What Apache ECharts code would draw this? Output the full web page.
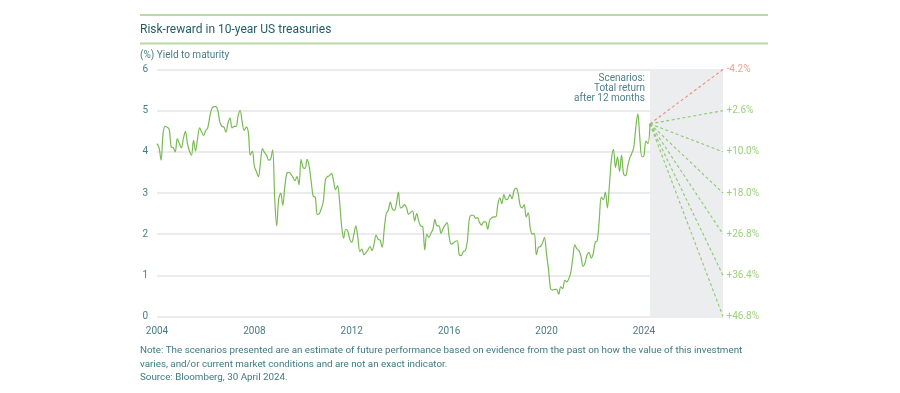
<!DOCTYPE html>
<html>
<head>
<meta charset="utf-8">
<script src="https://cdn.jsdelivr.net/npm/echarts@6/dist/echarts.min.js"></script>
<style>
html,body{margin:0;padding:0;background:#fff;}
#chart{width:900px;height:393px;}
</style>
</head>
<body>
<div id="chart"></div>
<script>
// Monthly 10-year US Treasury yield (%), Jan 2004 .. Apr 2024
const startYear = 2004;
const yields = [
  4.20,4.10,3.80,4.45,4.62,4.60,4.55,4.12,4.10,4.00,4.32,4.20, // 2004
  4.10,4.32,4.50,4.20,4.02,3.92,4.28,4.02,4.32,4.58,4.48,4.40, // 2005
  4.52,4.58,4.85,5.05,5.10,5.10,5.00,4.72,4.62,4.60,4.48,4.70, // 2006
  4.82,4.58,4.62,4.62,4.88,5.00,4.72,4.52,4.60,4.48,3.92,4.02, // 2007
  3.65,3.52,3.40,3.75,4.08,3.98,3.92,3.80,3.82,4.05,2.90,2.20, // 2008
  2.85,3.00,2.70,3.15,3.48,3.50,3.46,3.38,3.30,3.40,3.20,3.82, // 2009
  3.62,3.60,3.82,3.65,3.28,2.92,2.90,2.48,2.50,2.62,2.80,3.32, // 2010
  3.40,3.42,3.48,3.30,3.08,3.18,2.80,2.20,1.90,2.12,2.08,1.88, // 2011
  1.80,1.98,2.20,1.92,1.58,1.64,1.50,1.55,1.62,1.70,1.60,1.76, // 2012
  1.98,1.88,1.85,1.68,2.12,2.50,2.58,2.78,2.62,2.58,2.74,3.02, // 2013
  2.64,2.66,2.72,2.64,2.48,2.53,2.56,2.32,2.50,2.32,2.20,2.18, // 2014
  1.62,2.00,1.92,2.02,2.12,2.36,2.20,2.20,2.02,2.14,2.22,2.28, // 2015
  1.94,1.76,1.78,1.82,1.84,1.50,1.48,1.58,1.60,1.84,2.38,2.46, // 2016
  2.46,2.38,2.40,2.28,2.22,2.30,2.30,2.12,2.34,2.40,2.42,2.42, // 2017
  2.72,2.88,2.74,2.96,2.84,2.86,2.96,2.86,3.06,3.12,3.00,2.70, // 2018
  2.64,2.72,2.42,2.52,2.14,2.00,2.02,1.50,1.68,1.70,1.78,1.92, // 2019
  1.52,1.14,0.68,0.64,0.66,0.66,0.54,0.72,0.68,0.88,0.84,0.92, // 2020
  1.08,1.44,1.74,1.64,1.60,1.46,1.22,1.30,1.50,1.56,1.42,1.52, // 2021
  1.80,1.84,2.34,2.90,2.84,3.02,2.64,3.18,3.82,4.06,3.62,3.88, // 2022
  3.52,3.92,3.46,3.42,3.64,3.84,3.96,4.10,4.58,4.92,4.34,3.88, // 2023
  3.90,4.26,4.20,4.68                                          // 2024
];

// Scenario fan: end yields and 12-month total returns
const scenarioEndX = 2027.25;
const scenarioYields = [6, 5, 4, 3, 2, 1, 0];
const scenarioReturns = ['-4.2%', '+2.6%', '+10.0%', '+18.0%', '+26.8%', '+36.4%', '+46.8%'];

const xTicks = [2004, 2008, 2012, 2016, 2020, 2024];
const yTicks = [0, 1, 2, 3, 4, 5, 6];

const titleText = 'Risk-reward in 10-year US treasuries';
const yAxisTitle = '(%) Yield to maturity';
const scenarioText = 'Scenarios:\nTotal return\nafter 12 months';
const noteLines = [
  'Note: The scenarios presented are an estimate of future performance based on evidence from the past on how the value of this investment',
  'varies, and/or current market conditions and are not an exact indicator.',
  'Source: Bloomberg, 30 April 2024.'
];

const FONT = 'Roboto, "Noto Sans", sans-serif';
const TEAL = '#4a7e85';
const GREEN = '#7aba55';
const LGREEN = '#8cc96e';
const RED = '#ee8c7e';

const lineData = yields.map((v, i) => [startYear + i / 12, v]);
const lastPt = lineData[lineData.length - 1];

const scenarioSeries = scenarioYields.map((y, k) => {
  const col = k === 0 ? RED : LGREEN;
  return {
    type: 'line',
    data: [[lastPt[0], lastPt[1]], [scenarioEndX, y]],
    symbol: 'none',
    silent: true,
    z: 3,
    lineStyle: { color: col, width: 1.1, type: [3, 2.5] },
    endLabel: {
      show: true,
      formatter: () => scenarioReturns[k],
      color: k === 0 ? '#f0a293' : '#9bd07c',
      fontFamily: FONT,
      fontSize: 10,
      distance: 3.5
    }
  };
});

const chart = echarts.init(document.getElementById('chart'), null, { renderer: 'canvas' });
chart.setOption({
  backgroundColor: '#ffffff',
  animation: false,
  textStyle: { fontFamily: FONT },
  grid: { left: 157, right: 177, top: 69.5, bottom: 76.5 },
  xAxis: {
    type: 'value',
    min: 2004,
    max: scenarioEndX,
    interval: 4,
    axisLine: { show: false },
    axisTick: { show: false },
    splitLine: { show: false },
    axisLabel: {
      color: TEAL, fontSize: 10, fontFamily: FONT, margin: 10,
      showMaxLabel: false,
      formatter: v => (xTicks.indexOf(v) >= 0 ? String(v) : '')
    }
  },
  yAxis: {
    type: 'value',
    min: yTicks[0],
    max: yTicks[yTicks.length - 1],
    interval: 1,
    axisLine: { show: false },
    axisTick: { show: false },
    splitLine: { show: true, lineStyle: { color: '#e4e4e4', width: 1.5 } },
    axisLabel: { color: TEAL, fontSize: 10, fontFamily: FONT, margin: 9, align: 'right' }
  },
  graphic: [
    { type: 'line', shape: { x1: 140, y1: 15, x2: 768, y2: 15 }, style: { stroke: '#b8dba3', lineWidth: 2 } },
    { type: 'line', shape: { x1: 140, y1: 43.5, x2: 768, y2: 43.5 }, style: { stroke: '#b8dba3', lineWidth: 2 } },
    { type: 'text', left: 140, top: 23.5, style: { text: titleText, fill: '#1f5d66', font: '12px ' + FONT } },
    { type: 'text', left: 140, top: 50.5, style: { text: yAxisTitle, fill: TEAL, font: '10px ' + FONT } },
    { type: 'text', right: 900 - 645, top: 73.5, style: { text: scenarioText, fill: '#4f8088', font: '10px ' + FONT, textAlign: 'right', lineHeight: 10 } },
    { type: 'text', left: 140, top: 344, style: { text: noteLines.join('\n'), fill: '#3f7a80', font: '9.8px ' + FONT, lineHeight: 13.5 } }
  ],
  series: [
    {
      type: 'line',
      data: lineData,
      symbol: 'none',
      smooth: 0.35,
      z: 4,
      lineStyle: { color: GREEN, width: 1.2 },
      markArea: {
        silent: true,
        itemStyle: { color: '#ebedef' },
        data: [[{ xAxis: lastPt[0] }, { xAxis: scenarioEndX }]]
      }
    },
    ...scenarioSeries
  ]
});
</script>
</body>
</html>
